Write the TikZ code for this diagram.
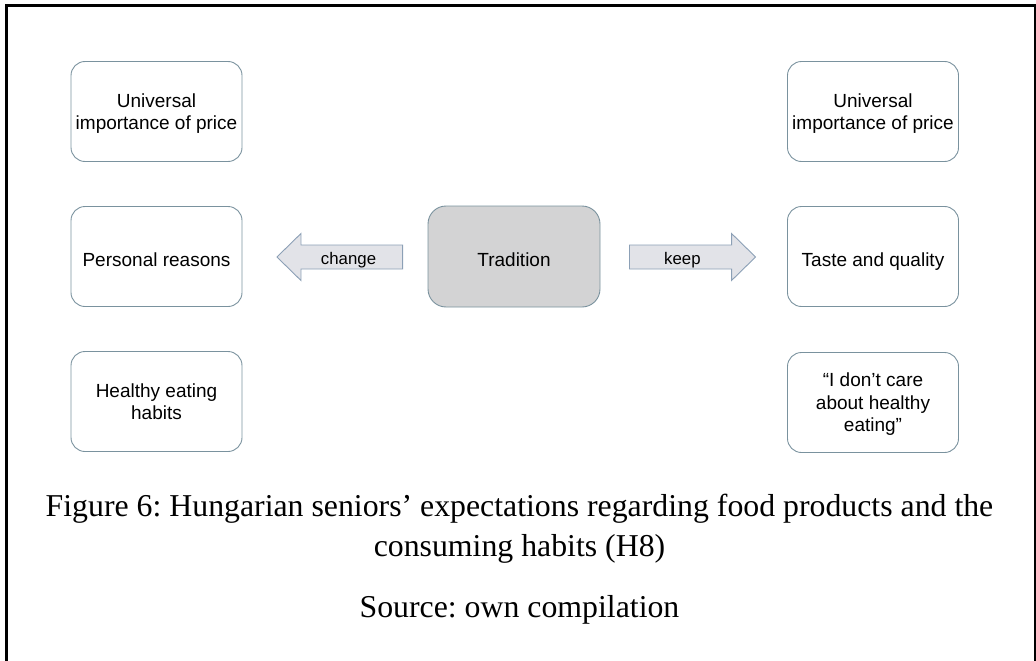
\documentclass[tikz,border=0pt]{standalone}
\usepackage{fontspec}
\setmainfont{Liberation Serif}
\newfontfamily\boxfont{Liberation Sans}
\usetikzlibrary{calc}
\definecolor{boxedge}{RGB}{122,146,158}
\definecolor{tradfill}{RGB}{211,211,212}
\definecolor{arrowfill}{RGB}{226,227,232}
\definecolor{arrowedge}{RGB}{140,160,182}
\begin{document}
\frenchspacing
\begin{tikzpicture}[x=1pt,y=-1pt,
  item/.style={draw=boxedge, line width=0.9pt, rounded corners=14pt,
    minimum width=171pt, minimum height=100pt, inner sep=0pt, text depth=0pt,
    align=center, text=black, font=\boxfont\fontsize{19}{22.5}\selectfont},
  oneline/.style={text height=20pt},
  blockarrow/.style={draw=arrowedge, fill=arrowfill, line width=0.9pt, line join=miter},
  arrowlabel/.style={inner sep=0pt, anchor=base, font=\boxfont\fontsize{16.8}{20}\selectfont},
  captext/.style={inner sep=0pt, anchor=base, font=\fontsize{31.8}{40}\selectfont},
  frameline/.style={line width=2.6pt, draw=black}]
\useasboundingbox (0,0) rectangle (1036,661);
% outer frame, open at the bottom
\draw[frameline] (6.3,670) -- (6.3,5.3) -- (1034.8,5.3) -- (1034.8,670);

% left column: reasons for change
\node[item] (l1) at (156.5,111.5) {Universal\\importance of price};
\node[item, oneline] (l2) at (156.5,256.5) {Personal reasons};
\node[item] (l3) at (156.5,401.5) {Healthy eating\\habits};

% right column: reasons to keep
\node[item] (r1) at (873,111.5) {Universal\\importance of price};
\node[item, oneline] (r2) at (873,256.5) {Taste and quality};
\node[item] (r3) at (873,402.5) {“I don’t care\\about healthy\\eating”};

% centre
\node[item, oneline, fill=tradfill, minimum width=172pt, minimum height=101pt,
      rounded corners=18pt] (trad) at (514,256.5) {Tradition};

% block arrows
\coordinate (chtip) at ($(l2.east)+(34.5,0.5)$);
\coordinate (chtail) at ($(trad.west)+(-25,0.5)$);
\draw[blockarrow] (chtail) -- ++(0,-12) -| ($(chtip)+(24,-23.5)$) -- (chtip)
  -- ($(chtip)+(24,23.5)$) |- ($(chtail)+(0,12)$) -- cycle;
\node[arrowlabel] (chg) at ($(chtip)!0.57!(chtail)+(0,7)$) {change};

\coordinate (kptail) at ($(trad.east)+(29,0.5)$);
\coordinate (kptip) at ($(r2.west)+(-31.5,0.5)$);
\draw[blockarrow] (kptail) -- ++(0,-12) -| ($(kptip)+(-24,-23.5)$) -- (kptip)
  -- ($(kptip)+(-24,23.5)$) |- ($(kptail)+(0,12)$) -- cycle;
\node[arrowlabel] (kp) at ($(kptail)!0.42!(kptip)+(0,7)$) {keep};

% caption
\node[captext] (cap1) at (519.5,516) {Figure 6: Hungarian seniors’ expectations regarding food products and the};
\node[captext] (cap2) at (519.5,556) {consuming habits (H8)};
\node[captext] (src) at (519.5,617) {Source: own compilation};
\end{tikzpicture}
\end{document}
